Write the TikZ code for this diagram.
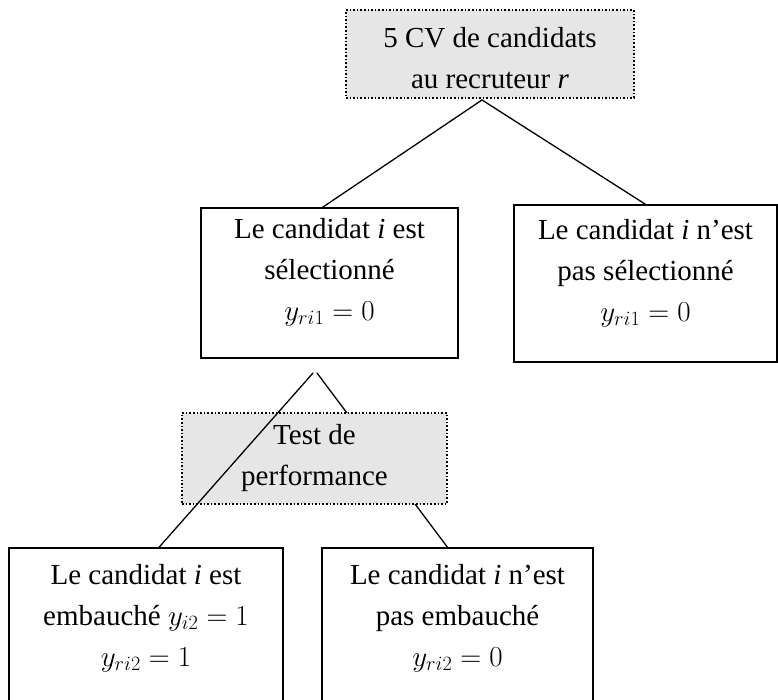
\RequirePackage{fix-cm}
\documentclass[tikz,border=0pt]{standalone}
\usepackage{fontspec}
\setmainfont{Liberation Serif}
\usepackage{xcolor}
\usepackage{tikz}
\usetikzlibrary{calc}
\definecolor{bg}{HTML}{FFFFFF}
\definecolor{ink}{HTML}{000000}
\definecolor{shade}{HTML}{E6E6E6}
\tikzset{
  lab/.style={text=ink, font=\fontsize{29}{41}\selectfont, align=center, inner sep=0pt},
  box/.style={lab, draw=ink, fill=bg, line width=1.3pt, text depth=27pt},
  gbox/.style={lab, draw=ink, fill=shade, line width=1.6pt, dotted},
  link/.style={draw=ink, line width=1.3pt, line cap=round},
}

\begin{document}
\begin{tikzpicture}[x=1pt,y=1pt]
  \useasboundingbox[fill=bg] (0,0) rectangle (778,700);

  \node[gbox, text height=70pt, minimum width=288, minimum height=88] (cv) at (490,646)
    {5 CV de candidats\\au recruteur \textit{r}};
  \node[box, minimum width=257, minimum height=150] (sel) at (329.5,417)
    {Le candidat \textit{i} est\\sélectionné\\$y_{ri1} = 0$};
  \node[box, minimum width=263, minimum height=157] (nsel) at (645.5,416.5)
    {Le candidat \textit{i} n’est\\pas sélectionné\\$y_{ri1} = 0$};
  \node[box, minimum width=274, minimum height=162] (emb) at (146,71)
    {Le candidat \textit{i} est\\embauché $y_{i2} = 1$\\$y_{ri2} = 1$};
  \node[box, minimum width=271, minimum height=162] (nemb) at (457.5,71)
    {Le candidat \textit{i} n’est\\pas embauché\\$y_{ri2} = 0$};

  \coordinate (top) at (482,600);
  \coordinate (forkL) at (313,327);
  \coordinate (forkR) at (317,327);

  \draw[link] (top) -- ($(sel.north)+(-7,0)$);
  \draw[link] (top) -- (nsel.north);

  % the right branch runs behind the test box
  \draw[link] (forkR) -- ($(nemb.north)+(-10,0)$);
  \node[gbox, minimum width=265, minimum height=91] (test) at (314.5,241.5)
    {Test de\\performance};
  \draw[link] (forkL) -- ($(emb.north)+(13,0)$);
\end{tikzpicture}
\end{document}
